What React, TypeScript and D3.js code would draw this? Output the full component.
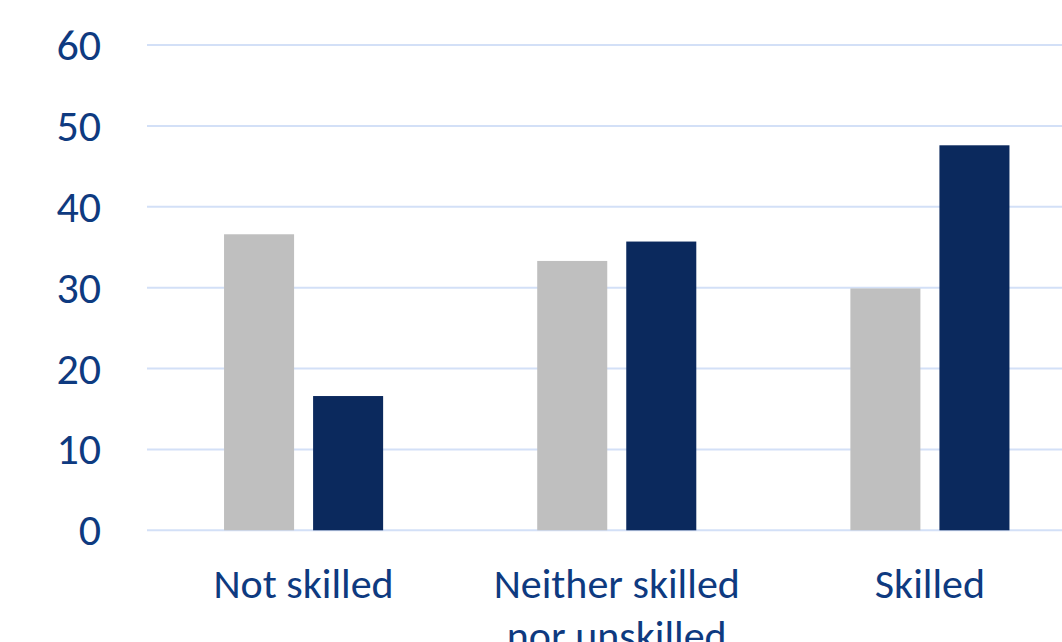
import React, { useEffect } from "react";
import * as d3 from "d3";

// Skill categories on the x axis (second line of a label after "\n")
const categories = ["Not skilled", "Neither skilled\nnor unskilled", "Skilled"];
// Light grey series values, one per category
const lightSeries = [36.6, 33.3, 29.9];
// Dark navy series values, one per category
const darkSeries = [16.6, 35.7, 47.6];
// Value axis ticks
const yTicks = [0, 10, 20, 30, 40, 50, 60];

const W = 1062;
const H = 642;
const plotLeft = 147;
const plotRight = 1086.5;
const yBottom = 530.3;
const yTop = 45;

const TEXT = "#0e3a80";
const GRID = "#d3e0f7";
const GREY = "#bfbfbf";
const NAVY = "#0b295d";
const FONT = "Calibri, Carlito, Lato, sans-serif";

export default function App() {
  useEffect(() => {
    document.body.style.margin = "0";
  }, []);

  const x = d3.scaleBand<string>().domain(categories).range([plotLeft, plotRight]).padding(0);
  const y = d3.scaleLinear().domain([0, 60]).range([yBottom, yTop]);

  const bw = x.bandwidth();
  const barW = bw * (70 / 313);
  const outer = bw * (77 / 313);
  const inner = bw * (19 / 313);

  return (
    <svg width={W} height={H} style={{ display: "block", background: "#fff" }}>
      {yTicks.map((t) => (
        <g key={t}>
          <line x1={plotLeft} x2={W} y1={y(t)} y2={y(t)} stroke={GRID} strokeWidth={2} />
          <text
            x={101}
            y={y(t)}
            textAnchor="end"
            dominantBaseline="central"
            fontFamily={FONT}
            fontSize={44}
            fill={TEXT}
          >
            {t}
          </text>
        </g>
      ))}
      {categories.map((c, i) => {
        const x0 = x(c)!;
        const greyX = x0 + outer;
        const navyX = greyX + barW + inner;
        return (
          <g key={c}>
            <rect x={greyX} y={y(lightSeries[i])} width={barW} height={yBottom - y(lightSeries[i])} fill={GREY} />
            <rect x={navyX} y={y(darkSeries[i])} width={barW} height={yBottom - y(darkSeries[i])} fill={NAVY} />
          </g>
        );
      })}
      {categories.map((c) => {
        const cx = x(c)! + bw / 2;
        const lines = c.split("\n");
        return (
          <text key={c} x={cx} y={598} textAnchor="middle" fontFamily={FONT} fontSize={42} fill={TEXT}>
            {lines.map((l, k) => (
              <tspan key={k} x={cx} dy={k === 0 ? 0 : 52}>
                {l}
              </tspan>
            ))}
          </text>
        );
      })}
    </svg>
  );
}
